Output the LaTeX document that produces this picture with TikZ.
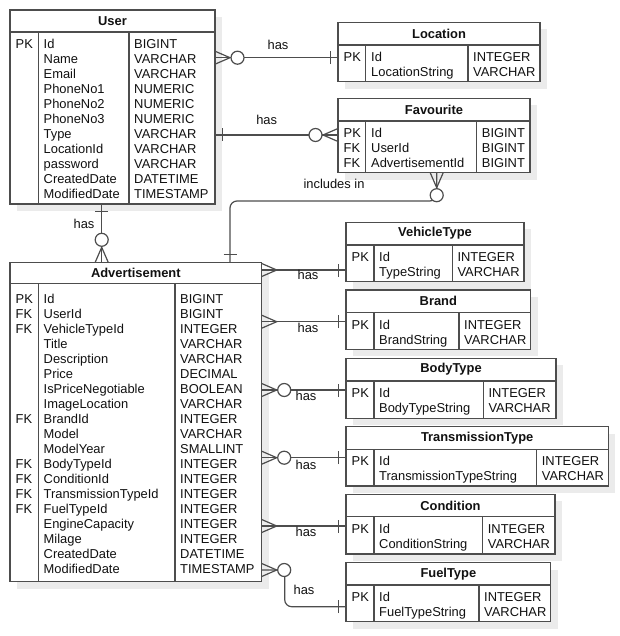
\documentclass[tikz,border=0pt]{standalone}
\usepackage{fontspec}
\setmainfont{Liberation Sans}
\usetikzlibrary{calc}

\definecolor{edge}{HTML}{4D4D4D}
\definecolor{shade}{HTML}{EBEBEB}
\definecolor{ink}{HTML}{111111}

\tikzset{
  tblframe/.style={draw=edge, line width=1.4pt, fill=white, inner sep=0pt, outer sep=0pt},
  tblrule/.style={draw=edge, line width=1.4pt},
  tblshadow/.style={fill=shade},
  tbltitle/.style={font=\fontsize{12.9}{15}\selectfont\bfseries, text=ink, inner sep=0pt},
  cell/.style={font=\fontsize{12.9}{15}\selectfont, text=ink, inner sep=0pt, anchor=base west},
  conn/.style={draw=edge, line width=1.2pt},
  rel/.style={font=\fontsize{12.9}{15}\selectfont, text=ink, inner sep=0pt, anchor=base},
}

% one column of a table body, one line per row
\newcommand{\rowsof}[1]{\begin{tabular}[t]{@{}l@{}}#1\end{tabular}}

% entity frame: #1 name, #2 left, #3 top, #4 right, #5 header bottom,
% #6 bottom, #7 first divider, #8 second divider, #9 title
\newcommand{\erdtable}[9]{%
  \fill[tblshadow] (#2+7,#3+7) rectangle (#4+7,#6+7);
  \node[tblframe, minimum width={#4-#2}, minimum height={#6-#3}, anchor=north west] (#1) at (#2,#3) {};
  \draw[tblrule] (#2,#5) -- (#4,#5) (#7,#5) -- (#7,#6) (#8,#5) -- (#8,#6);
  \node[tbltitle] (#1-title) at ({(#2+#4)/2},{(#3+#5)/2}) {#9};
}

% body text: #1 name, #2 first baseline, #3/#4/#5 column x, #6 keys, #7 names, #8 types
\newcommand{\erdcells}[8]{%
  \node[cell] (#1-keys) at (#3,#2) {\rowsof{#6}};
  \node[cell] (#1-names) at (#4,#2) {\rowsof{#7}};
  \node[cell] (#1-types) at (#5,#2) {\rowsof{#8}};
}

% relationship ends, drawn at an entity edge point #1 pointing outward at angle #2
\newcommand{\crowfoot}[2]{\draw[conn, shift={(#1)}, rotate=#2] (0,-6.5) -- (15,0) -- (0,6.5);}
\newcommand{\ring}[2]{\draw[conn, fill=white, shift={(#1)}, rotate=#2] (22.5,0) circle[radius=6.5pt];}
\newcommand{\onebar}[2]{\draw[conn, shift={(#1)}, rotate=#2] (7.5,-6.5) -- (7.5,6.5);}

\begin{document}
\begin{tikzpicture}[x=1pt, y=-1pt]
\useasboundingbox (0,0) rectangle (619,636);
\fill[white] (0,0) rectangle (619,636);

% ---------- entities ----------
\erdtable{user}{10}{10}{215}{32}{204}{38.3}{129}{User}
\erdcells{user}{48.7}{15.5}{43.5}{134}
  {PK}
  {Id\\Name\\Email\\PhoneNo1\\PhoneNo2\\PhoneNo3\\Type\\LocationId\\password\\CreatedDate\\ModifiedDate}
  {BIGINT\\VARCHAR\\VARCHAR\\NUMERIC\\NUMERIC\\NUMERIC\\VARCHAR\\VARCHAR\\VARCHAR\\DATETIME\\TIMESTAMP}

\erdtable{location}{338}{22.3}{540}{45}{81.7}{365.7}{468}{Location}
\erdcells{location}{61.7}{343.5}{371}{473}
  {PK}{Id\\LocationString}{INTEGER\\VARCHAR}

\erdtable{favourite}{338}{98.3}{530}{121}{172.7}{365.7}{476.7}{Favourite}
\erdcells{favourite}{137.7}{343.5}{371}{481.7}
  {PK\\FK\\FK}{Id\\UserId\\AdvertisementId}{BIGINT\\BIGINT\\BIGINT}

\erdtable{advert}{10}{262.3}{261.7}{283.3}{581.7}{38.3}{175}{Advertisement}
\erdcells{advert}{303}{15.5}{43.5}{180}
  {PK\\FK\\FK\\ \\ \\ \\ \\ \\FK\\ \\ \\FK\\FK\\FK\\FK\\ \\ \\ \\ }
  {Id\\UserId\\VehicleTypeId\\Title\\Description\\Price\\IsPriceNegotiable\\ImageLocation\\BrandId\\Model\\ModelYear\\BodyTypeId\\ConditionId\\TransmissionTypeId\\FuelTypeId\\EngineCapacity\\Milage\\CreatedDate\\ModifiedDate}
  {BIGINT\\BIGINT\\INTEGER\\VARCHAR\\VARCHAR\\DECIMAL\\BOOLEAN\\VARCHAR\\INTEGER\\VARCHAR\\SMALLINT\\INTEGER\\INTEGER\\INTEGER\\INTEGER\\INTEGER\\INTEGER\\DATETIME\\TIMESTAMP}

\erdtable{vehicletype}{346}{222.3}{524}{245}{281.7}{374}{452.3}{VehicleType}
\erdcells{vehicletype}{261.5}{351.5}{379}{457.3}
  {PK}{Id\\TypeString}{INTEGER\\VARCHAR}

\erdtable{brand}{346}{290}{530.7}{312.7}{349.3}{374}{459}{Brand}
\erdcells{brand}{329.2}{351.5}{379}{464}
  {PK}{Id\\BrandString}{INTEGER\\VARCHAR}

\erdtable{bodytype}{346}{358.3}{556}{381}{418.3}{374}{483.3}{BodyType}
\erdcells{bodytype}{397.5}{351.5}{379}{488.3}
  {PK}{Id\\BodyTypeString}{INTEGER\\VARCHAR}

\erdtable{transmission}{346}{426.7}{608.3}{449.3}{486}{374}{536.7}{TransmissionType}
\erdcells{transmission}{465.5}{351.5}{379}{541.7}
  {PK}{Id\\TransmissionTypeString}{INTEGER\\VARCHAR}

\erdtable{condition}{346}{494.3}{555}{516.7}{554}{374}{482.7}{Condition}
\erdcells{condition}{533.2}{351.5}{379}{487.7}
  {PK}{Id\\ConditionString}{INTEGER\\VARCHAR}

\erdtable{fueltype}{346}{562.7}{550.7}{585}{621.7}{374}{479}{FuelType}
\erdcells{fueltype}{601.5}{351.5}{379}{484}
  {PK}{Id\\FuelTypeString}{INTEGER\\VARCHAR}

% ---------- connection points ----------
\coordinate (u-loc) at ($(user.north east)+(0,47.7)$);
\coordinate (loc-u) at ($(location.north west)+(0,35.4)$);
\coordinate (u-fav) at ($(user.north east)+(0,125)$);
\coordinate (fav-u) at ($(favourite.north west)+(0,36.7)$);
\coordinate (u-ad)  at ($(user.south west)+(91.7,0)$);
\coordinate (ad-u)  at ($(advert.north west)+(91.7,0)$);
\coordinate (fav-ad) at ($(favourite.south west)+(98.7,0)$);
\coordinate (ad-fav) at ($(advert.north west)+(220,0)$);
\coordinate (ad-vt) at ($(advert.north east)+(0,7.7)$);
\coordinate (vt-ad) at ($(vehicletype.north west)+(0,47.7)$);
\coordinate (ad-br) at ($(advert.north east)+(0,59.4)$);
\coordinate (br-ad) at ($(brand.north west)+(0,31.7)$);
\coordinate (ad-bt) at ($(advert.north east)+(0,127.7)$);
\coordinate (bt-ad) at ($(bodytype.north west)+(0,31.7)$);
\coordinate (ad-tt) at ($(advert.north east)+(0,195.4)$);
\coordinate (tt-ad) at ($(transmission.north west)+(0,31)$);
\coordinate (ad-co) at ($(advert.north east)+(0,263.7)$);
\coordinate (co-ad) at ($(condition.north west)+(0,31.7)$);
\coordinate (ad-fu) at ($(advert.north east)+(0,307.7)$);
\coordinate (fu-ad) at ($(fueltype.north west)+(0,44)$);

% ---------- relationships ----------
% User -- Location
\draw[conn] (u-loc) -- (loc-u);
\crowfoot{u-loc}{0} \ring{u-loc}{0} \onebar{loc-u}{180}
\node[rel] (has-loc) at (278,49.5) {has};

% User -- Favourite
\draw[conn] (u-fav) -- (fav-u);
\onebar{u-fav}{0} \crowfoot{fav-u}{180} \ring{fav-u}{180}
\node[rel] (has-fav) at (266.7,125) {has};

% User -- Advertisement
\draw[conn] (u-ad) -- (ad-u);
\onebar{u-ad}{-90} \crowfoot{ad-u}{90} \ring{ad-u}{90}
\node[rel] (has-ad) at (84,228.3) {has};

% Favourite -- Advertisement
\draw[conn, rounded corners=7pt] (fav-ad) -- ($(fav-ad)+(0,28.3)$) -| (ad-fav);
\crowfoot{fav-ad}{-90} \ring{fav-ad}{-90} \onebar{ad-fav}{90}
\node[rel] (incl) at (334,188.3) {includes in};

% Advertisement -- lookup tables
\draw[conn] (ad-vt) -- (vt-ad);
\crowfoot{ad-vt}{0} \onebar{vt-ad}{180}
\node[rel] (has-vt) at (308,279.3) {has};

\draw[conn] (ad-br) -- (br-ad);
\crowfoot{ad-br}{0} \onebar{br-ad}{180}
\node[rel] (has-br) at (308,332.3) {has};

\draw[conn] (ad-bt) -- (bt-ad);
\crowfoot{ad-bt}{0} \ring{ad-bt}{0} \onebar{bt-ad}{180}
\node[rel] (has-bt) at (306,400.7) {has};

\draw[conn] (ad-tt) -- (tt-ad);
\crowfoot{ad-tt}{0} \ring{ad-tt}{0} \onebar{tt-ad}{180}
\node[rel] (has-tt) at (306,469.3) {has};

\draw[conn] (ad-co) -- (co-ad);
\crowfoot{ad-co}{0} \onebar{co-ad}{180}
\node[rel] (has-co) at (306,536.7) {has};

\draw[conn, rounded corners=7pt] (ad-fu) -- ($(ad-fu)+(23,0)$) |- (fu-ad);
\crowfoot{ad-fu}{0} \ring{ad-fu}{0} \onebar{fu-ad}{180}
\node[rel] (has-fu) at (304,594.3) {has};
\end{tikzpicture}
\end{document}
